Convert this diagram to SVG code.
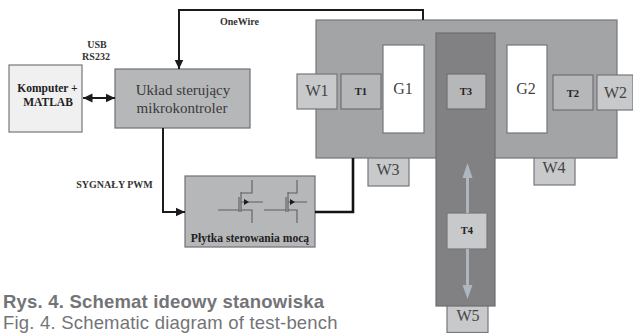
<svg xmlns="http://www.w3.org/2000/svg" width="633" height="333" viewBox="0 0 633 333">
<style>
text{font-family:"Liberation Serif",serif;fill:#3a3a3a;text-anchor:middle}
.b{font-weight:bold;fill:#222}
.s{font-size:10px;font-weight:bold;fill:#333}
.t{font-size:10.5px;font-weight:bold;fill:#222}
.l{font-size:16px;fill:#444}
.light{fill:#c8c9cb;stroke:#77767a;stroke-width:1.2}
.mid{fill:#b6b7b9;stroke:#716f73;stroke-width:1.2}
.white{fill:#fff;stroke:#77767a;stroke-width:1.2}
.wire{fill:none;stroke:#1c1a1a;stroke-width:2}
.heavy{fill:none;stroke:#141212;stroke-width:2.6}
.pale{fill:none;stroke:#5f5f61;stroke-width:1.1}
.gr{fill:none;stroke:#aeb6bf;stroke-width:3}
.cap{font-family:"Liberation Sans",sans-serif;font-size:18.5px;letter-spacing:.2px;text-anchor:start;fill:#737478}
</style>
<defs>
<marker id="a" markerUnits="userSpaceOnUse" markerWidth="10" markerHeight="10" refX="9.5" refY="5" orient="auto-start-reverse"><path d="M0 .5L9.5 5L0 9.500Z" fill="#1c1a1a"/></marker>
</defs>
<rect width="633" height="333" fill="#fff"/>
<g id="W3"><rect class="light" x="368" y="150" width="41" height="36"/><text class="l" x="388" y="175">W3</text></g>
<g id="W4"><rect class="light" x="534" y="150" width="41" height="35"/><text class="l" x="554" y="173">W4</text></g>
<g id="bench"><rect x="316" y="20" width="301" height="138" fill="#a3a4a6" stroke="#77767a" stroke-width="1.2"/></g>
<g id="W5"><rect class="light" x="447" y="300" width="41" height="32.500"/><text class="l" x="468" y="321">W5</text></g>
<g id="rail"><rect x="436" y="33" width="59" height="273" fill="#818184" stroke="#6f6e72" stroke-width="1.2"/></g>
<g id="W1"><rect class="light" x="297" y="74" width="40" height="35"/><text class="l" x="317" y="96">W1</text></g>
<g id="T1"><rect class="mid" x="341" y="74" width="40" height="35"/><text class="t" x="361" y="95">T1</text></g>
<g id="G1"><rect class="white" x="383" y="45" width="41" height="88"/><text class="l" x="403" y="94">G1</text></g>
<g id="T3"><rect class="mid" x="447" y="74" width="39" height="35"/><text class="t" x="466" y="95">T3</text></g>
<g id="G2"><rect class="white" x="507" y="45" width="40" height="88"/><text class="l" x="526" y="94">G2</text></g>
<g id="T2"><rect class="mid" x="553" y="75" width="40" height="35"/><text class="t" x="573" y="97">T2</text></g>
<g id="W2"><rect class="light" x="597" y="75" width="36" height="35"/><text class="l" x="615.500" y="98">W2</text></g>
<g id="T4"><rect class="light" x="447" y="213" width="40" height="36"/><text class="t" x="467" y="234">T4</text></g>
<g id="komputer"><rect x="9" y="65" width="73" height="67" fill="#f0f0f1" stroke="#77767a" stroke-width="1.2"/><text class="b" font-size="11.500" x="47.500" y="92">Komputer +</text><text class="b" font-size="11.500" x="48" y="106">MATLAB</text></g>
<g id="uklad"><rect class="mid" x="115" y="69" width="135" height="59"/><text font-size="15" x="183" y="95">Układ sterujący</text><text font-size="15" x="182" y="113">mikrokontroler</text></g>
<g id="plytka"><rect class="mid" x="185" y="176" width="130" height="71"/><text class="b" font-size="11.600" x="250" y="242">Płytka sterowania mocą</text>
<path class="pale" d="M218 210H239M239 197V212M241 192V212M241 193H252V180M241 210H252V223M241 202H263"/><path d="M244 199L249 202L244 205Z" fill="#1c1a1a"/>
<path class="pale" d="M264 210H286M286 197V212M288 192V212M288 193H297V180M288 210H297V223M288 202H307"/><path d="M290 199L295 202L290 205Z" fill="#1c1a1a"/></g>
<g id="connectors">
<path class="wire" d="M423 20V10H179V69" marker-end="url(#a)"/>
<path class="wire" d="M83 98H115" marker-start="url(#a)" marker-end="url(#a)"/>
<path class="wire" d="M163 128V212H185" marker-end="url(#a)"/>
<path class="heavy" d="M315 212H353V158"/>
<path class="gr" d="M467.500 213V176"/><path d="M462.500 178L467.500 163L472.500 178Z" fill="#aeb6bf"/>
<path class="gr" d="M467.500 249V286"/><path d="M462.500 285L467.500 299L472.500 285Z" fill="#aeb6bf"/>
</g>
<g id="labels">
<text class="s" x="97" y="48">USB</text><text class="s" x="96" y="60">RS232</text>
<text class="s" x="239.500" y="25">OneWire</text>
<text class="s" x="114.500" y="188">SYGNAŁY PWM</text>
<text class="cap" font-weight="bold" x="3" y="308">Rys. 4. Schemat ideowy stanowiska</text>
<text class="cap" x="3" y="329">Fig. 4. Schematic diagram of test-bench</text>
</g>
</svg>
